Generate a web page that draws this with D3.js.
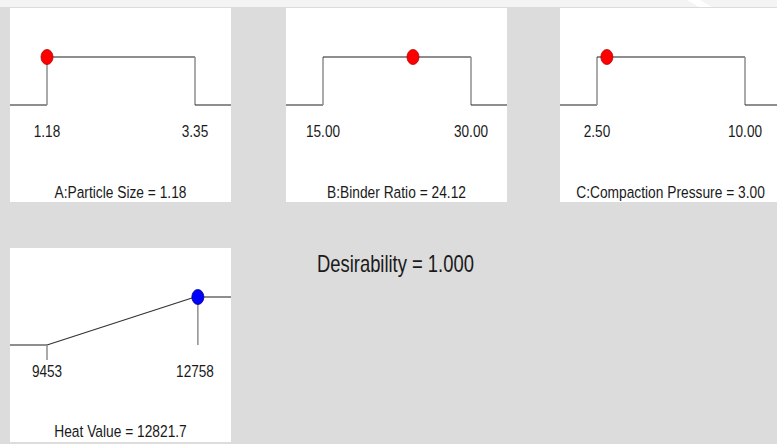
<!DOCTYPE html>
<html>
<head>
<meta charset="utf-8">
<script src="https://cdn.jsdelivr.net/npm/d3@7"></script>
<style>
html,body{margin:0;padding:0;background:#dcdcdc;overflow:hidden;}
svg{display:block;}
text{font-family:"Liberation Sans",Arial,sans-serif;fill:#1a1a1a;}
</style>
</head>
<body>
<svg id="chart" width="777" height="444"></svg>
<script>
// ---- data ----
const factorNames = ["A:Particle Size", "B:Binder Ratio", "C:Compaction Pressure"];
const factorLows = [1.18, 15.00, 2.50];
const factorHighs = [3.35, 30.00, 10.00];
const factorValues = [1.18, 24.12, 3.00];
const responseName = "Heat Value";
const responseLow = 9453;
const responseHigh = 12758;
const responseValue = 12821.7;
const desirability = 1.000;

// ---- layout ----
const W = 777, H = 444;
const panelW = 221, panelH = 194;
const panelLefts = [10, 286, 560];
const panelTop = 8;
const respLeft = 10, respTop = 248;

const svg = d3.select("#chart");
svg.append("rect").attr("x",0).attr("y",0).attr("width",W).attr("height",H).attr("fill","#dcdcdc");
svg.append("rect").attr("x",0).attr("y",0).attr("width",W).attr("height",7).attr("fill","#f4f4f4");
svg.append("polygon").attr("points","687,0 700,0 712,7 699,7").attr("fill","#ffffff");

const black = "#1e1e1e", grey = "#8e8e8e";

function line(g, x1, y1, x2, y2, color, w){
  g.append("line").attr("x1",x1).attr("y1",y1).attr("x2",x2).attr("y2",y2)
    .attr("stroke",color).attr("stroke-width",w||1.2);
}
function label(g, x, y, txt, size, sx, anchor){
  g.append("text").attr("transform",`translate(${x},${y}) scale(${sx},1)`)
    .attr("text-anchor",anchor||"middle").attr("font-size",size).text(txt);
}

function panelFrame(L, T){
  const g = svg.append("g");
  g.append("rect").attr("x",L).attr("y",T).attr("width",panelW).attr("height",panelH).attr("fill","#ffffff");
  const x0 = L + 37, x1 = L + 185;
  const y = d3.scaleLinear().domain([0,1]).range([T+97, T+49]);
  return {g, x0, x1, y, L, T, R: L + panelW};
}

// factor panels
factorNames.forEach((name, i) => {
  const p = panelFrame(panelLefts[i], panelTop);
  const x = d3.scaleLinear().domain([factorLows[i], factorHighs[i]]).range([p.x0, p.x1]);
  const g = p.g;
  line(g, p.L, p.y(0), x(factorLows[i]), p.y(0), black);
  line(g, x(factorLows[i]), p.y(0), x(factorLows[i]), p.y(1), grey, 1.5);
  line(g, x(factorLows[i]), p.y(1), x(factorHighs[i]), p.y(1), black);
  line(g, x(factorHighs[i]), p.y(1), x(factorHighs[i]), p.y(0), grey, 1.5);
  line(g, x(factorHighs[i]), p.y(0), p.R, p.y(0), black);
  [factorLows[i], factorHighs[i]].forEach(v => {
    label(g, x(v), p.T + 129, d3.format(".2f")(v), 17, 0.8);
  });
  g.append("ellipse").attr("cx", x(factorValues[i])).attr("cy", p.y(1))
    .attr("rx",6).attr("ry",7.5).attr("fill","#ff0000").attr("stroke","#b00000").attr("stroke-width",0.8);
  label(g, p.L + panelW/2, p.T + 189.5, `${name} = ${d3.format(".2f")(factorValues[i])}`, 16.5, 0.835);
});

// response panel
{
  const p = panelFrame(respLeft, respTop);
  const g = p.g;
  const x = d3.scaleLinear().domain([responseLow, responseHigh]).range([p.x0, p.x1]);
  line(g, p.L, p.y(0), x(responseLow), p.y(0), black);
  line(g, x(responseLow), p.y(0), x(responseHigh), p.y(1), "#333333");
  line(g, x(responseHigh), p.y(1), p.R, p.y(1), black);
  line(g, x(responseLow), p.y(0), x(responseLow), p.y(0) + 15, grey, 1.5);
  line(g, x(responseValue), p.y(1), x(responseValue), p.y(0), grey, 1.5);
  [responseLow, responseHigh].forEach(v => {
    label(g, x(v), p.T + 129, d3.format("d")(v), 17, 0.8);
  });
  g.append("ellipse").attr("cx", x(responseValue)).attr("cy", p.y(1))
    .attr("rx",6).attr("ry",7.5).attr("fill","#0000ff").attr("stroke","#00008a").attr("stroke-width",0.8);
  label(g, p.L + panelW/2, p.T + 189, `${responseName} = ${d3.format(".1f")(responseValue)}`, 16.5, 0.835);
}

label(svg, 317, 272, `Desirability = ${d3.format(".3f")(desirability)}`, 23, 0.8, "start");
</script>
</body>
</html>
